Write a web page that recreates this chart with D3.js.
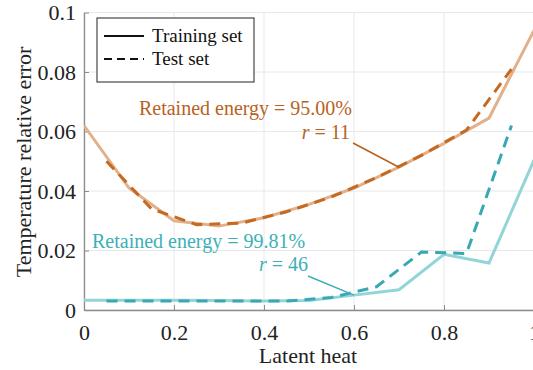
<!DOCTYPE html>
<html>
<head>
<meta charset="utf-8">
<script src="https://d3js.org/d3.v7.min.js"></script>
<style>
  body { margin: 0; background: #fff; }
  svg text { font-family: "Liberation Serif", "Times New Roman", Times, "DejaVu Serif", serif !important; }
</style>
</head>
<body>
<svg width="533" height="370"></svg>
<script>
// training samples at 0, 0.1, ... 1 ; test samples at the midpoints
let trainX = [0, 0.1, 0.2, 0.3, 0.4, 0.5, 0.6, 0.7, 0.8, 0.9, 1.0];
let testX = [0.05, 0.15, 0.25, 0.35, 0.45, 0.55, 0.65, 0.75, 0.85, 0.95];

let train95 = [0.062, 0.041, 0.030, 0.0282, 0.031, 0.0355, 0.041, 0.048, 0.056, 0.0645, 0.094];
let test95 = [0.050, 0.034, 0.0287, 0.0292, 0.033, 0.038, 0.0445, 0.052, 0.0605, 0.081];
let train9981 = [0.0033, 0.0033, 0.0033, 0.0032, 0.003, 0.0032, 0.005, 0.0068, 0.0187, 0.0158, 0.0504];
let test9981 = [0.003, 0.003, 0.003, 0.003, 0.003, 0.0042, 0.0078, 0.0195, 0.019, 0.062];

let xTicks = [0, 0.2, 0.4, 0.6, 0.8, 1];
let yTicks = [0, 0.02, 0.04, 0.06, 0.08, 0.1];

var svg = d3.select("svg");
var serif = "'Liberation Serif', 'Times New Roman', Times, serif";

var x = d3.scaleLinear().domain([0, 1]).range([84, 534]);
var y = d3.scaleLinear().domain([0, 0.1]).range([310, 12.5]);

// grid
svg.append("g").selectAll("line").data(xTicks).enter().append("line")
  .attr("x1", d => x(d)).attr("x2", d => x(d))
  .attr("y1", y(0)).attr("y2", y(0.1))
  .attr("stroke", "#e8e8e8").attr("stroke-width", 1);
svg.append("g").selectAll("line").data(yTicks).enter().append("line")
  .attr("x1", x(0)).attr("x2", x(1))
  .attr("y1", d => y(d)).attr("y2", d => y(d))
  .attr("stroke", "#e8e8e8").attr("stroke-width", 1);

// axes, ticks pointing inwards
var xAxis = svg.append("g")
  .attr("transform", "translate(0," + y(0) + ")")
  .call(d3.axisBottom(x).tickValues(xTicks).tickSizeInner(-5).tickSizeOuter(0).tickPadding(14)
    .tickFormat(d => d3.format("")(d)));
var yAxis = svg.append("g")
  .attr("transform", "translate(" + x(0) + ",0)")
  .call(d3.axisLeft(y).tickValues(yTicks).tickSizeInner(-5).tickSizeOuter(0).tickPadding(8)
    .tickFormat(d => d3.format("")(d)));

[xAxis, yAxis].forEach(function(a) {
  a.attr("font-family", serif);
  a.select(".domain").attr("stroke", "#8c8c8c").attr("stroke-width", 1.3);
  a.selectAll(".tick line").attr("stroke", "#8c8c8c");
  a.selectAll(".tick text").attr("fill", "#222").attr("font-size", 22);
});
xAxis.selectAll(".tick text").attr("dy", "0.71em");

svg.append("text")
  .attr("x", 308).attr("y", 363)
  .attr("text-anchor", "middle")
  .attr("font-size", 22).attr("fill", "#222")
  .text("Latent heat");

svg.append("text")
  .attr("transform", "translate(31,162) rotate(-90)")
  .attr("text-anchor", "middle")
  .attr("font-size", 22).attr("fill", "#222")
  .text("Temperature relative error");

// lines
var line = d3.line().x(d => x(d[0])).y(d => y(d[1]));
svg.append("clipPath").attr("id", "clip").append("rect")
  .attr("x", x(0)).attr("y", 0).attr("width", 460).attr("height", y(0));

var series = [
  {xs: trainX, ys: train95, color: "#e2b08a", dash: null},
  {xs: testX, ys: test95, color: "#c46a22", dash: "11,7"},
  {xs: trainX, ys: train9981, color: "#92d5d8", dash: null},
  {xs: testX, ys: test9981, color: "#3aa8b2", dash: "11,7"}
];

svg.append("g").attr("clip-path", "url(#clip)")
  .selectAll("path").data(series).enter().append("path")
  .attr("d", s => line(s.xs.map((v, i) => [v, s.ys[i]])))
  .attr("fill", "none")
  .attr("stroke", s => s.color)
  .attr("stroke-width", 3)
  .attr("stroke-dasharray", s => s.dash);

// annotations
var orange = "#b8621f", teal = "#3cb0b8";

svg.append("text").attr("x", 352).attr("y", 115).attr("text-anchor", "end")
  .attr("font-size", 20).attr("fill", orange)
  .text("Retained energy = 95.00%");
var r1 = svg.append("text").attr("x", 350).attr("y", 139).attr("text-anchor", "end")
  .attr("font-size", 20).attr("fill", orange);
r1.append("tspan").attr("font-style", "italic").text("r");
r1.append("tspan").text(" = 11");
svg.append("line").attr("x1", 353).attr("y1", 143).attr("x2", x(0.7)).attr("y2", y(train95[7]))
  .attr("stroke", orange).attr("stroke-width", 1.6);

svg.append("text").attr("x", 92).attr("y", 248)
  .attr("font-size", 20).attr("fill", teal)
  .text("Retained energy = 99.81%");
var r2 = svg.append("text").attr("x", 308).attr("y", 271).attr("text-anchor", "end")
  .attr("font-size", 20).attr("fill", teal);
r2.append("tspan").attr("font-style", "italic").text("r");
r2.append("tspan").text(" = 46");
svg.append("line").attr("x1", 308).attr("y1", 276).attr("x2", x(0.6)).attr("y2", y(train9981[6]))
  .attr("stroke", teal).attr("stroke-width", 1.6);

// legend
var leg = svg.append("g");
leg.append("rect").attr("x", 97).attr("y", 18).attr("width", 157).attr("height", 64)
  .attr("fill", "#fff").attr("stroke", "#222").attr("stroke-width", 1);
var legItems = [{label: "Training set", dash: null}, {label: "Test set", dash: "8,5"}];
legItems.forEach(function(d, i) {
  var yy = 36 + i * 23;
  leg.append("line").attr("x1", 104).attr("x2", 144).attr("y1", yy).attr("y2", yy)
    .attr("stroke", "#111").attr("stroke-width", 1.8).attr("stroke-dasharray", d.dash);
  leg.append("text").attr("x", 152).attr("y", yy + 6)
    .attr("font-size", 19).attr("fill", "#111").text(d.label);
});
</script>
</body>
</html>
